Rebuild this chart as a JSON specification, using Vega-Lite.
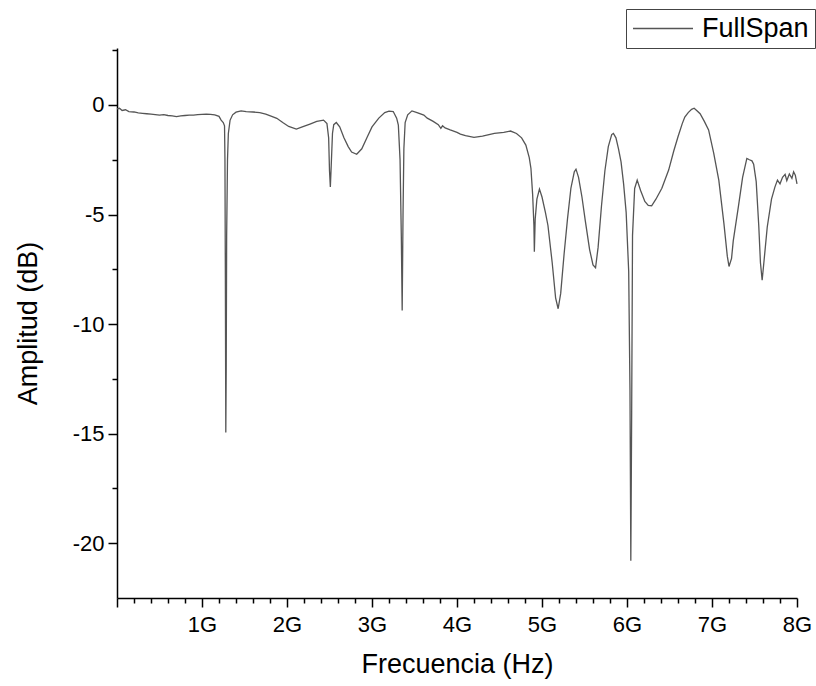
{
  "$schema": "https://vega.github.io/schema/vega-lite/v6.json",
  "autosize": "none",
  "width": 680,
  "height": 550,
  "padding": {"left": 117, "top": 48, "right": 19, "bottom": 88},
  "background": "white",
  "config": {
    "font": "Liberation Sans",
    "view": {"stroke": null}
  },
  "data": {
    "values": [
      {"freq": 0.00, "amp": -0.18}, {"freq": 0.03, "amp": -0.15}, {"freq": 0.06, "amp": -0.25}, {"freq": 0.10, "amp": -0.22},
      {"freq": 0.14, "amp": -0.30}, {"freq": 0.20, "amp": -0.32}, {"freq": 0.25, "amp": -0.36}, {"freq": 0.30, "amp": -0.38},
      {"freq": 0.35, "amp": -0.40}, {"freq": 0.40, "amp": -0.42}, {"freq": 0.45, "amp": -0.44}, {"freq": 0.50, "amp": -0.46},
      {"freq": 0.55, "amp": -0.44}, {"freq": 0.60, "amp": -0.48}, {"freq": 0.65, "amp": -0.50}, {"freq": 0.70, "amp": -0.53},
      {"freq": 0.75, "amp": -0.50}, {"freq": 0.80, "amp": -0.48}, {"freq": 0.85, "amp": -0.46}, {"freq": 0.90, "amp": -0.46},
      {"freq": 0.95, "amp": -0.44}, {"freq": 1.00, "amp": -0.43}, {"freq": 1.05, "amp": -0.42}, {"freq": 1.10, "amp": -0.43},
      {"freq": 1.15, "amp": -0.45}, {"freq": 1.20, "amp": -0.52}, {"freq": 1.225, "amp": -0.69}, {"freq": 1.25, "amp": -0.80},
      {"freq": 1.265, "amp": -0.95}, {"freq": 1.27, "amp": -2.5}, {"freq": 1.275, "amp": -8.0}, {"freq": 1.28, "amp": -14.95},
      {"freq": 1.285, "amp": -12.0}, {"freq": 1.29, "amp": -6.0}, {"freq": 1.30, "amp": -2.5}, {"freq": 1.31, "amp": -1.3},
      {"freq": 1.33, "amp": -0.7}, {"freq": 1.36, "amp": -0.45}, {"freq": 1.40, "amp": -0.33}, {"freq": 1.46, "amp": -0.27},
      {"freq": 1.52, "amp": -0.30}, {"freq": 1.60, "amp": -0.32}, {"freq": 1.68, "amp": -0.35}, {"freq": 1.75, "amp": -0.42},
      {"freq": 1.82, "amp": -0.52}, {"freq": 1.88, "amp": -0.61}, {"freq": 1.95, "amp": -0.80}, {"freq": 2.02, "amp": -0.98},
      {"freq": 2.11, "amp": -1.10}, {"freq": 2.18, "amp": -1.00}, {"freq": 2.27, "amp": -0.87}, {"freq": 2.35, "amp": -0.75},
      {"freq": 2.43, "amp": -0.69}, {"freq": 2.47, "amp": -0.85}, {"freq": 2.49, "amp": -1.5}, {"freq": 2.50, "amp": -3.0},
      {"freq": 2.51, "amp": -3.74}, {"freq": 2.52, "amp": -2.8}, {"freq": 2.535, "amp": -1.3}, {"freq": 2.55, "amp": -0.9},
      {"freq": 2.58, "amp": -0.8}, {"freq": 2.62, "amp": -1.0}, {"freq": 2.67, "amp": -1.5}, {"freq": 2.72, "amp": -1.9},
      {"freq": 2.76, "amp": -2.15}, {"freq": 2.82, "amp": -2.25}, {"freq": 2.88, "amp": -2.0}, {"freq": 2.94, "amp": -1.5},
      {"freq": 3.00, "amp": -1.0}, {"freq": 3.08, "amp": -0.6}, {"freq": 3.15, "amp": -0.35}, {"freq": 3.20, "amp": -0.28},
      {"freq": 3.25, "amp": -0.30}, {"freq": 3.29, "amp": -0.6}, {"freq": 3.31, "amp": -0.92}, {"freq": 3.33, "amp": -2.5},
      {"freq": 3.345, "amp": -6.0}, {"freq": 3.355, "amp": -9.38}, {"freq": 3.365, "amp": -5.0}, {"freq": 3.375, "amp": -2.0},
      {"freq": 3.39, "amp": -0.8}, {"freq": 3.42, "amp": -0.45}, {"freq": 3.47, "amp": -0.27}, {"freq": 3.53, "amp": -0.35},
      {"freq": 3.61, "amp": -0.46}, {"freq": 3.65, "amp": -0.6}, {"freq": 3.72, "amp": -0.75}, {"freq": 3.78, "amp": -0.9},
      {"freq": 3.81, "amp": -1.07}, {"freq": 3.83, "amp": -0.95}, {"freq": 3.86, "amp": -1.05}, {"freq": 3.92, "amp": -1.14},
      {"freq": 4.00, "amp": -1.25}, {"freq": 4.04, "amp": -1.33}, {"freq": 4.10, "amp": -1.40}, {"freq": 4.20, "amp": -1.48},
      {"freq": 4.30, "amp": -1.42}, {"freq": 4.44, "amp": -1.30}, {"freq": 4.55, "amp": -1.25}, {"freq": 4.63, "amp": -1.19},
      {"freq": 4.70, "amp": -1.3}, {"freq": 4.76, "amp": -1.5}, {"freq": 4.81, "amp": -1.83}, {"freq": 4.85, "amp": -2.4},
      {"freq": 4.87, "amp": -2.9}, {"freq": 4.89, "amp": -4.1}, {"freq": 4.905, "amp": -5.5}, {"freq": 4.91, "amp": -6.7},
      {"freq": 4.92, "amp": -5.2}, {"freq": 4.94, "amp": -4.3}, {"freq": 4.97, "amp": -3.84}, {"freq": 5.00, "amp": -4.2},
      {"freq": 5.04, "amp": -4.9}, {"freq": 5.07, "amp": -5.5}, {"freq": 5.12, "amp": -7.2}, {"freq": 5.16, "amp": -8.8},
      {"freq": 5.19, "amp": -9.3}, {"freq": 5.22, "amp": -8.6}, {"freq": 5.26, "amp": -6.8}, {"freq": 5.30, "amp": -5.2},
      {"freq": 5.34, "amp": -3.8}, {"freq": 5.38, "amp": -3.05}, {"freq": 5.40, "amp": -2.93}, {"freq": 5.43, "amp": -3.3},
      {"freq": 5.47, "amp": -4.2}, {"freq": 5.51, "amp": -5.3}, {"freq": 5.56, "amp": -6.6}, {"freq": 5.60, "amp": -7.3},
      {"freq": 5.63, "amp": -7.43}, {"freq": 5.66, "amp": -6.5}, {"freq": 5.70, "amp": -4.6}, {"freq": 5.74, "amp": -3.0},
      {"freq": 5.78, "amp": -1.9}, {"freq": 5.82, "amp": -1.35}, {"freq": 5.84, "amp": -1.3}, {"freq": 5.87, "amp": -1.5},
      {"freq": 5.90, "amp": -2.0}, {"freq": 5.93, "amp": -2.6}, {"freq": 5.96, "amp": -3.6}, {"freq": 5.99, "amp": -4.9},
      {"freq": 6.02, "amp": -7.6}, {"freq": 6.035, "amp": -13.0}, {"freq": 6.045, "amp": -20.8}, {"freq": 6.055, "amp": -14.0},
      {"freq": 6.065, "amp": -5.95}, {"freq": 6.09, "amp": -3.81}, {"freq": 6.12, "amp": -3.43}, {"freq": 6.16, "amp": -3.9},
      {"freq": 6.21, "amp": -4.4}, {"freq": 6.25, "amp": -4.58}, {"freq": 6.29, "amp": -4.6}, {"freq": 6.34, "amp": -4.3},
      {"freq": 6.41, "amp": -3.8}, {"freq": 6.49, "amp": -2.97}, {"freq": 6.55, "amp": -2.1}, {"freq": 6.60, "amp": -1.45},
      {"freq": 6.65, "amp": -0.85}, {"freq": 6.68, "amp": -0.55}, {"freq": 6.72, "amp": -0.35}, {"freq": 6.76, "amp": -0.2},
      {"freq": 6.79, "amp": -0.15}, {"freq": 6.82, "amp": -0.25}, {"freq": 6.86, "amp": -0.4}, {"freq": 6.91, "amp": -0.75},
      {"freq": 6.96, "amp": -1.14}, {"freq": 7.02, "amp": -2.2}, {"freq": 7.08, "amp": -3.43}, {"freq": 7.14, "amp": -5.4},
      {"freq": 7.18, "amp": -6.9}, {"freq": 7.20, "amp": -7.37}, {"freq": 7.23, "amp": -7.0}, {"freq": 7.25, "amp": -6.2},
      {"freq": 7.31, "amp": -4.65}, {"freq": 7.36, "amp": -3.3}, {"freq": 7.41, "amp": -2.44}, {"freq": 7.44, "amp": -2.5},
      {"freq": 7.47, "amp": -2.55}, {"freq": 7.49, "amp": -2.7}, {"freq": 7.52, "amp": -3.5}, {"freq": 7.55, "amp": -5.5},
      {"freq": 7.57, "amp": -7.2}, {"freq": 7.59, "amp": -8.0}, {"freq": 7.61, "amp": -7.2}, {"freq": 7.65, "amp": -5.57},
      {"freq": 7.70, "amp": -4.3}, {"freq": 7.74, "amp": -3.75}, {"freq": 7.77, "amp": -3.43}, {"freq": 7.80, "amp": -3.6},
      {"freq": 7.83, "amp": -3.3}, {"freq": 7.86, "amp": -3.17}, {"freq": 7.88, "amp": -3.45}, {"freq": 7.91, "amp": -3.15},
      {"freq": 7.94, "amp": -3.35}, {"freq": 7.96, "amp": -3.05}, {"freq": 7.98, "amp": -3.2}, {"freq": 8.00, "amp": -3.6}
    ]
  },
  "mark": {"type": "line", "strokeWidth": 1.3, "clip": false},
  "encoding": {
    "x": {
      "field": "freq",
      "type": "quantitative",
      "scale": {"domain": [0, 8], "nice": false, "zero": false},
      "axis": {
        "title": "Frecuencia (Hz)",
        "values": [0, 0.2, 0.4, 0.6, 0.8, 1, 1.2, 1.4, 1.6, 1.8, 2, 2.2, 2.4, 2.6, 2.8, 3, 3.2, 3.4, 3.6, 3.8, 4, 4.2, 4.4, 4.6, 4.8, 5, 5.2, 5.4, 5.6, 5.8, 6, 6.2, 6.4, 6.6, 6.8, 7, 7.2, 7.4, 7.6, 7.8, 8],
        "labelExpr": "(datum.value % 1 === 0 && datum.value > 0) ? datum.value + 'G' : ''",
        "tickSize": {"condition": {"test": "datum.value % 1 === 0", "value": 9}, "value": 5},
        "tickWidth": 1.5,
        "tickColor": "black",
        "domainColor": "black",
        "domainWidth": 1.5,
        "grid": false,
        "labelFontSize": 22,
        "labelColor": "black",
        "labelPadding": 7,
        "labelFlush": false,
        "labelOverlap": false,
        "titleFontSize": 27,
        "titleFontWeight": "normal",
        "titleColor": "black",
        "titlePadding": 16
      }
    },
    "y": {
      "field": "amp",
      "type": "quantitative",
      "scale": {"domain": [-22.5, 2.6], "nice": false, "zero": false},
      "axis": {
        "title": "Amplitud (dB)",
        "values": [2.5, 0, -2.5, -5, -7.5, -10, -12.5, -15, -17.5, -20],
        "labelExpr": "datum.value % 5 === 0 ? datum.value : ''",
        "tickSize": {"condition": {"test": "datum.value % 5 === 0", "value": 9}, "value": 5},
        "tickWidth": 1.5,
        "tickColor": "black",
        "domainColor": "black",
        "domainWidth": 1.5,
        "grid": false,
        "labelFontSize": 22,
        "labelColor": "black",
        "labelPadding": 4,
        "labelFlush": false,
        "labelOverlap": false,
        "titleFontSize": 27,
        "titleFontWeight": "normal",
        "titleColor": "black",
        "titlePadding": 30
      }
    },
    "color": {
      "datum": "FullSpan",
      "type": "nominal",
      "scale": {"range": ["#555555"]},
      "legend": {
        "title": null,
        "orient": "none",
        "legendX": 509,
        "legendY": -39,
        "strokeColor": "#444444",
        "fillColor": "white",
        "padding": 6,
        "clipHeight": 27,
        "symbolType": "stroke",
        "symbolSize": 3600,
        "symbolStrokeWidth": 1.3,
        "labelFontSize": 27,
        "labelColor": "black",
        "labelOffset": 8,
        "labelLimit": 300
      }
    }
  }
}
